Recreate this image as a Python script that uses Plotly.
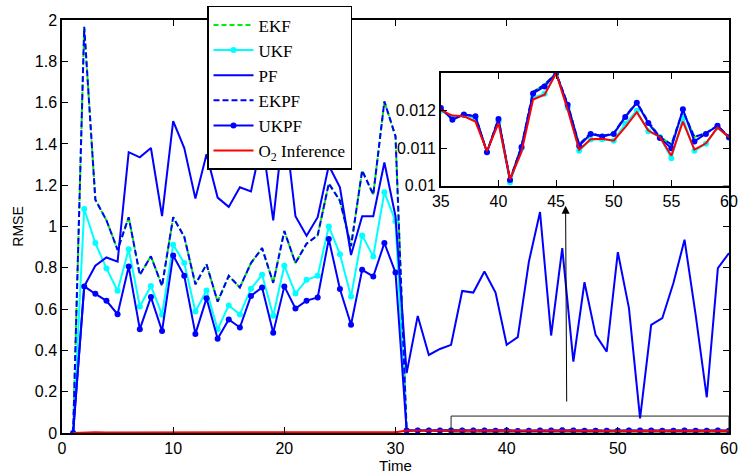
import plotly.graph_objects as go

t = list(range(1, 61))

ekf = [0, 1.967, 1.13, 1.03, 0.887, 1.045, 0.766, 0.856, 0.712, 1.045,
       0.95, 0.72, 0.817, 0.636, 0.761, 0.705, 0.823, 0.895, 0.727, 0.978,
       0.823, 0.917, 0.957, 1.208, 1.125, 0.905, 1.271, 1.155, 1.606, 1.437,
       0.01185, 0.0121, 0.0119, 0.01205, 0.01207, 0.01178, 0.0119, 0.01186, 0.0109, 0.01178,
       0.01016, 0.01105, 0.0125, 0.0127, 0.0130, 0.01218, 0.0111, 0.0114, 0.01132, 0.0114,
       0.01185, 0.01222, 0.0117, 0.0113, 0.0111, 0.0120, 0.0113, 0.0114, 0.0116, 0.0113]

ukf = [0, 1.085, 0.92, 0.797, 0.689, 0.89, 0.613, 0.712, 0.573, 0.912,
       0.823, 0.588, 0.69, 0.502, 0.618, 0.574, 0.699, 0.766, 0.568, 0.81,
       0.675, 0.742, 0.761, 1.0, 0.866, 0.661, 0.957, 0.855, 1.166, 1.025,
       0.0118, 0.0120, 0.0119, 0.0120, 0.0120, 0.01182, 0.01188, 0.0118, 0.0109, 0.01172,
       0.01008, 0.0110, 0.01235, 0.01245, 0.0130, 0.01208, 0.01093, 0.01123, 0.01124, 0.0112,
       0.01165, 0.0120, 0.01145, 0.0113, 0.01073, 0.0118, 0.01093, 0.01112, 0.01155, 0.01128]

pf = [0, 0.71, 0.81, 0.85, 0.83, 1.36, 1.335, 1.38, 1.05, 1.51,
      1.38, 1.135, 1.35, 1.14, 1.095, 1.19, 1.17, 1.42, 1.03, 1.52,
      1.05, 0.955, 1.045, 1.295, 1.19, 0.862, 1.05, 1.05, 1.31, 1.05,
      0.29, 0.567, 0.378, 0.407, 0.427, 0.688, 0.68, 0.782, 0.68, 0.427,
      0.464, 0.83, 1.07, 0.472, 0.895, 0.346, 0.73, 0.475, 0.394, 0.876,
      0.605, 0.071, 0.524, 0.556, 0.726, 0.936, 0.572, 0.173, 0.798, 0.871]

ekpf = list(ekf)

ukpf = [0, 0.71, 0.674, 0.64, 0.575, 0.806, 0.503, 0.658, 0.494, 0.86,
        0.761, 0.48, 0.652, 0.456, 0.55, 0.511, 0.664, 0.705, 0.486, 0.71,
        0.603, 0.641, 0.656, 0.939, 0.697, 0.524, 0.79, 0.758, 0.92, 0.777,
        0.01185, 0.0121, 0.0119, 0.01205, 0.01207, 0.01176, 0.0119, 0.01185, 0.01089, 0.01178,
        0.01015, 0.01103, 0.01246, 0.01265, 0.0130, 0.01216, 0.01106, 0.01138, 0.01131, 0.01138,
        0.01183, 0.01221, 0.01167, 0.01127, 0.0110, 0.01204, 0.01118, 0.01138, 0.0116, 0.01129]

o2 = [0, 0.0028, 0.0031, 0.0029, 0.0030, 0.0032, 0.0028, 0.0030, 0.0029, 0.0031,
      0.0030, 0.0028, 0.0029, 0.0027, 0.0029, 0.0028, 0.0030, 0.0031, 0.0028, 0.0030,
      0.0029, 0.0030, 0.0031, 0.0032, 0.0031, 0.0029, 0.0032, 0.0031, 0.0033, 0.0032,
      0.0118, 0.0120, 0.0119, 0.0120, 0.01201, 0.01187, 0.01185, 0.01171, 0.01092, 0.01167,
      0.01017, 0.0109, 0.0123, 0.01243, 0.0130, 0.01203, 0.01096, 0.01124, 0.01125, 0.0112,
      0.01156, 0.01196, 0.01147, 0.0113, 0.0108, 0.01171, 0.01096, 0.01113, 0.01155, 0.01129]

names = ["EKF", "UKF", "PF", "EKPF", "UKPF", "O<sub>2</sub> Inference"]
x_ticks = [0, 10, 20, 30, 40, 50, 60]
y_ticks = [0, 0.2, 0.4, 0.6, 0.8, 1, 1.2, 1.4, 1.6, 1.8, 2]
y_tick_text = ["0", "0.2", "0.4", "0.6", "0.8", "1", "1.2", "1.4", "1.6", "1.8", "2"]
inset_x_ticks = [35, 40, 45, 50, 55, 60]
inset_y_ticks = [0.01, 0.011, 0.012]
inset_y_text = ["0.01", "0.011", "0.012"]

BLUE = "#0000ff"
styles = [
    dict(color="#00ee00", width=2, dash="5px,3px"),
    dict(color="#00ffff", width=2),
    dict(color=BLUE, width=2),
    dict(color=BLUE, width=2, dash="6px,3px"),
    dict(color=BLUE, width=2),
    dict(color="#ff0000", width=2),
]
modes = ["lines", "lines+markers", "lines", "lines", "lines+markers", "lines"]
series = [ekf, ukf, pf, ekpf, ukpf, o2]

fig = go.Figure()
for nm, ys, st, md in zip(names, series, styles, modes):
    fig.add_trace(go.Scatter(x=t, y=ys, name=nm, mode=md, line=st,
                             marker=dict(size=6, color=st["color"]),
                             xaxis="x", yaxis="y"))

inset_idx = [0, 1, 3, 4, 5]
for i in inset_idx:
    st = styles[i]
    fig.add_trace(go.Scatter(x=t, y=series[i], mode=modes[i], line=st,
                             marker=dict(size=6, color=st["color"]),
                             showlegend=False, xaxis="x2", yaxis="y2"))

tickfont = dict(family="Liberation Sans, Arial, sans-serif", size=16, color="black")
axcommon = dict(showline=True, linecolor="black", linewidth=1.5, mirror="ticks",
                ticks="inside", ticklen=6, tickcolor="black", showgrid=False,
                zeroline=False, tickfont=tickfont)

fig.update_layout(
    width=740, height=476,
    margin=dict(l=62, r=11, t=20, b=43, autoexpand=False),
    paper_bgcolor="white", plot_bgcolor="white",
    xaxis=dict(range=[0, 60], tickvals=x_ticks, domain=[0, 1], anchor="y",
               title=dict(text="Time", font=dict(family="Liberation Sans, Arial", size=15, color="black"), standoff=2),
               **axcommon),
    yaxis=dict(range=[0, 2], tickvals=y_ticks, ticktext=y_tick_text, domain=[0, 1], anchor="x",
               title=dict(text="RMSE", font=dict(family="Liberation Sans, Arial", size=14, color="black"), standoff=8),
               **axcommon),
    xaxis2=dict(range=[35, 60], tickvals=inset_x_ticks, domain=[0.568, 1.0], anchor="y2",
                **axcommon),
    yaxis2=dict(range=[0.01, 0.013], tickvals=inset_y_ticks, ticktext=inset_y_text,
                domain=[0.599, 0.871], anchor="x2", **axcommon),
    legend=dict(x=0.2174, y=1.034, xanchor="left", yanchor="top",
                bgcolor="white", bordercolor="black", borderwidth=1.5,
                font=dict(family="Liberation Serif, Times New Roman, serif", size=17, color="black"),
                itemwidth=40, tracegroupgap=0),
    showlegend=True,
    shapes=[dict(type="rect", xref="x", yref="y", x0=35, x1=60, y0=0, y1=0.082,
                 line=dict(color="#222222", width=1), layer="above")],
    annotations=[dict(x=45.3, y=1.10, ax=45.4, ay=0.145, xref="x", yref="y",
                      axref="x", ayref="y", text="", showarrow=True,
                      arrowhead=2, arrowsize=1.6, arrowwidth=1, arrowcolor="black",
                      standoff=0)],
)

fig.write_html("out.html")
